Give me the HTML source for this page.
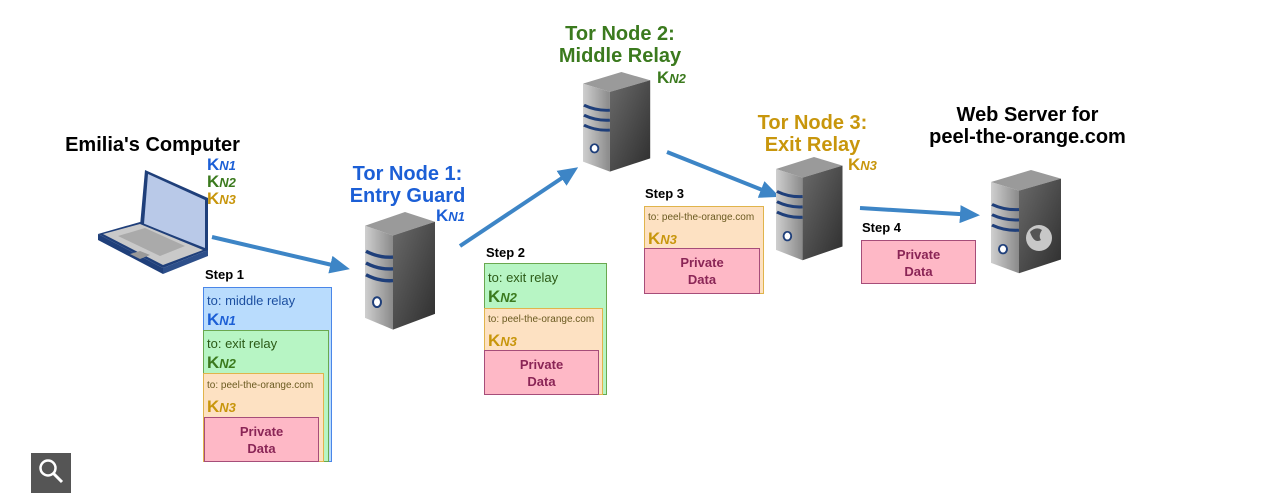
<!DOCTYPE html>
<html><head><meta charset="utf-8"><style>
body{margin:0;width:1273px;height:500px;background:#fff;position:relative;overflow:hidden;font-family:"Liberation Sans",Arial,sans-serif}
.a{position:absolute}
.t{font-weight:bold;text-align:center;font-size:20px;line-height:22px}
.k{position:absolute;font-weight:bold;font-size:17px;line-height:18px}
.k i{font-size:13px}
.box{position:absolute;box-sizing:border-box;border:1.5px solid}
.bl{background:#b9dcfd;border-color:#4a86e8}
.gr{background:#b7f5c4;border-color:#6aa84f}
.or{background:#fde1c2;border-color:#e0b44c}
.pk{background:#feb8c6;border-color:#a64d79;color:#8a2556;font-weight:bold;font-size:13px;text-align:center;line-height:17px;padding-top:5px}
.lbl{position:absolute;font-size:13px;color:#333}
.sm{font-size:10px;color:#6a5a20}
.step{position:absolute;font-weight:bold;font-size:13px}
.B{color:#1c5fd6}.G{color:#3b7a1e}.O{color:#c8960c}
</style></head><body>
<svg class="a" style="left:0;top:0" width="1273" height="500">
<defs>
<linearGradient id="fr" x1="0" x2="1"><stop offset="0" stop-color="#cfcfcf"/><stop offset="1" stop-color="#8a8a8a"/></linearGradient>
<linearGradient id="sd" x1="0" x2="1" y1="0" y2="1"><stop offset="0" stop-color="#6a6a6a"/><stop offset="1" stop-color="#2e2e2e"/></linearGradient>
<marker id="ah" markerWidth="20" markerHeight="18" refX="15" refY="9" orient="auto" markerUnits="userSpaceOnUse"><path d="M0,0 L20,9 L0,18 z" fill="#3d85c6"/></marker>
<g id="srv">
<path d="M0,14 L40,0 L70,10 L28,24 Z" fill="#9a9a9a"/>
<path d="M0,14 L28,24 L28,120 L0,108 Z" fill="url(#fr)"/>
<path d="M28,24 L70,10 L70,104 L28,120 Z" fill="url(#sd)"/>
<path d="M1,40 Q14,47 28,46 M1,52 Q14,59 28,58 M1,64 Q14,71 28,70" stroke="#1f3f7a" stroke-width="3.5" fill="none"/>
<ellipse cx="12" cy="92" rx="4" ry="5" fill="#fff" stroke="#1f3f7a" stroke-width="2"/>
</g>
</defs>
<g stroke="#3d85c6" stroke-width="4" fill="none">
<line x1="212" y1="237" x2="345" y2="268" marker-end="url(#ah)"/>
<line x1="460" y1="246" x2="574" y2="170" marker-end="url(#ah)"/>
<line x1="667" y1="152" x2="775" y2="195" marker-end="url(#ah)"/>
<line x1="860" y1="208" x2="975" y2="215" marker-end="url(#ah)"/>
</g>
<use href="#srv" transform="translate(365,212) scale(1,0.98)"/>
<use href="#srv" transform="translate(583,72) scale(0.96,0.83)"/>
<use href="#srv" transform="translate(776,157) scale(0.95,0.86)"/>
<use href="#srv" transform="translate(991,170) scale(1,0.86)"/>
<circle cx="1039" cy="238" r="13" fill="#c8c8c8"/>
<path d="M1030,232 q6,-6 12,-2 q-4,6 -1,10 q-7,4 -11,-8z" fill="#555"/>
<path d="M145,170 L208,198 L208,252 L140,226 Z" fill="#1f3f7a"/>
<path d="M148,174 L205,200 L205,248 L144,224 Z" fill="#b9c9e8"/>
<path d="M98,234 L140,222 L208,250 L163,268 Z" fill="#1f3f7a"/>
<path d="M103,234 L140,224 L203,250 L163,265 Z" fill="#c9c9c9"/>
<path d="M98,234 L163,268 L163,274 L98,240 Z" fill="#1f3f7a"/>
<path d="M163,268 L208,250 L208,256 L163,274 Z" fill="#2d4f8a"/>
<path d="M118,236 L145,228 L185,246 L160,256 Z" fill="#aaa"/>
<path d="M130,254 L140,251 L150,255 L140,259 Z" fill="#999"/>
<rect x="31" y="453" width="40" height="40" fill="#555"/>
<circle cx="48" cy="468" r="7.5" stroke="#fff" stroke-width="2.5" fill="none"/>
<line x1="53.5" y1="473.5" x2="62" y2="482" stroke="#fff" stroke-width="3"/>
</svg>

<div class="a t" style="left:40px;top:134px;width:225px;color:#000">Emilia's Computer</div>
<div class="k B" style="left:207px;top:156px">K<i>N1</i></div>
<div class="k G" style="left:207px;top:173px">K<i>N2</i></div>
<div class="k O" style="left:207px;top:190px">K<i>N3</i></div>

<div class="a t B" style="left:320px;top:163px;width:175px">Tor Node 1:<br>Entry Guard</div>
<div class="k B" style="left:436px;top:207px">K<i>N1</i></div>

<div class="a t G" style="left:535px;top:23px;width:170px">Tor Node 2:<br>Middle Relay</div>
<div class="k G" style="left:657px;top:69px">K<i>N2</i></div>

<div class="a t O" style="left:735px;top:112px;width:155px">Tor Node 3:<br>Exit Relay</div>
<div class="k O" style="left:848px;top:156px">K<i>N3</i></div>

<div class="a t" style="left:915px;top:104px;width:225px;color:#000">Web Server for<br>peel-the-orange.com</div>

<div class="step" style="left:205px;top:267px">Step 1</div>
<div class="box bl" style="left:203px;top:287px;width:129px;height:175px"></div>
<div class="lbl" style="left:207px;top:293px;color:#1c4fa0">to: middle relay</div>
<div class="k B" style="left:207px;top:311px">K<i>N1</i></div>
<div class="box gr" style="left:203px;top:330px;width:126px;height:132px"></div>
<div class="lbl" style="left:207px;top:336px;color:#2b5a16">to: exit relay</div>
<div class="k G" style="left:207px;top:354px">K<i>N2</i></div>
<div class="box or" style="left:203px;top:373px;width:121px;height:89px"></div>
<div class="lbl sm" style="left:207px;top:380px">to: peel-the-orange.com</div>
<div class="k O" style="left:207px;top:398px">K<i>N3</i></div>
<div class="box pk" style="left:204px;top:417px;width:115px;height:45px">Private<br>Data</div>

<div class="step" style="left:486px;top:245px">Step 2</div>
<div class="box gr" style="left:484px;top:263px;width:123px;height:132px"></div>
<div class="lbl" style="left:488px;top:270px;color:#2b5a16">to: exit relay</div>
<div class="k G" style="left:488px;top:288px">K<i>N2</i></div>
<div class="box or" style="left:484px;top:308px;width:119px;height:87px"></div>
<div class="lbl sm" style="left:488px;top:314px">to: peel-the-orange.com</div>
<div class="k O" style="left:488px;top:332px">K<i>N3</i></div>
<div class="box pk" style="left:484px;top:350px;width:115px;height:45px">Private<br>Data</div>

<div class="step" style="left:645px;top:186px">Step 3</div>
<div class="box or" style="left:644px;top:206px;width:120px;height:88px"></div>
<div class="lbl sm" style="left:648px;top:212px">to: peel-the-orange.com</div>
<div class="k O" style="left:648px;top:230px">K<i>N3</i></div>
<div class="box pk" style="left:644px;top:248px;width:116px;height:46px">Private<br>Data</div>

<div class="step" style="left:862px;top:220px">Step 4</div>
<div class="box pk" style="left:861px;top:240px;width:115px;height:44px">Private<br>Data</div>
</body></html>
